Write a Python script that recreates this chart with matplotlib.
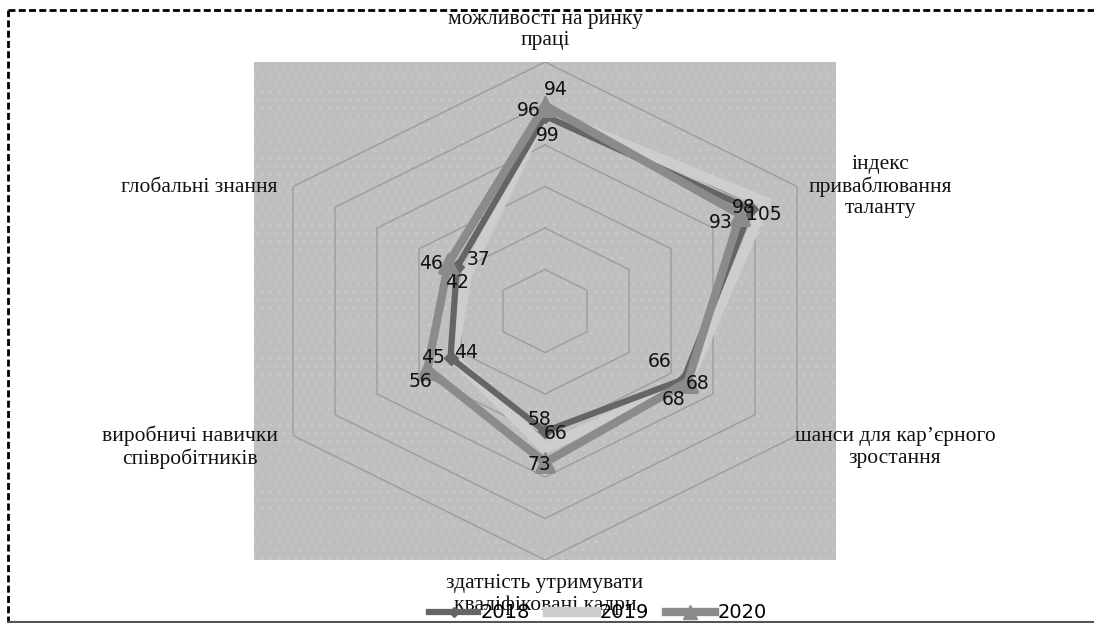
import matplotlib.pyplot as plt
import numpy as np
from matplotlib.patches import Rectangle
from matplotlib.lines import Line2D

# categories, clockwise from the top
categories = [
    "можливості на ринку\nпраці",
    "індекс\nприваблювання\nталанту",
    "шанси для кар’єрного\nзростання",
    "здатність утримувати\nкваліфіковані кадри",
    "виробничі навички\nспівробітників",
    "глобальні знання",
]
years = ["2018", "2019", "2020"]
values_2018 = [94, 98, 66, 58, 45, 42]
values_2019 = [96, 105, 68, 66, 44, 37]
values_2020 = [99, 93, 68, 73, 56, 46]
rings = [20, 40, 60, 80, 100, 120]

# label offsets (pixels) so the numbers sit where they do in the original
off_2018 = [(11, 26), (-7, 2), (-24, 18), (-6, 12), (-18, 0), (0, -15)]
off_2019 = [(-16, 1), (-2, -12), (10, -2), (11, 14), (13, 4), (11, 13)]
off_2020 = [(3, -30), (-20, -8), (-14, -18), (-6, -2), (-7, -12), (-17, 0)]
cat_off = [(0, 12), (83, 0), (98, -12), (0, -14), (-103, -12), (-94, -1)]
cat_va = ["bottom", "center", "center", "top", "center", "center"]

series = [
    (values_2019, off_2019, "#cdcdcd", 7.5, None, 0, 2),
    (values_2018, off_2018, "#656565", 4.5, "D", 7, 3),
    (values_2020, off_2020, "#8b8b8b", 6, "^", 15, 4),
]
labels_of = {0: "2019", 1: "2018", 2: "2020"}

fig = plt.figure(figsize=(10.94, 6.23), dpi=100)
box = [0.2322, 0.1011, 0.532, 0.7994]

# grey plot area with faint dots
bg = fig.add_axes(box)
bg.add_patch(Rectangle((0, 0), 1, 1, transform=bg.transAxes, facecolor="#bfbfbf",
                       edgecolor="#c8c8c8", hatch="..", lw=0))
bg.set_xticks([])
bg.set_yticks([])
for s in bg.spines.values():
    s.set_visible(False)

ax = fig.add_axes(box, projection="polar")
ax.set_aspect("auto")
ax.set_facecolor("none")
ax.set_theta_zero_location("N")
ax.set_theta_direction(-1)
ax.set_ylim(0, 120)
ax.grid(False)
ax.spines["polar"].set_visible(False)
ax.set_xticks([])
ax.set_yticks([])

angles = np.deg2rad(np.arange(len(categories)) * 60.0)
closed = np.append(angles, angles[0])

# hexagonal grid
for r in rings:
    ax.plot(closed, [r] * len(closed), color="#9c9c9c", lw=1, zorder=1)

handles = {}
for i, (vals, offs, col, lw, mk, ms, z) in enumerate(series):
    line, = ax.plot(closed, vals + vals[:1], color=col, lw=lw, marker=mk, markersize=ms,
                    markerfacecolor=col, markeredgecolor=col, zorder=z,
                    solid_joinstyle="miter")
    handles[labels_of[i]] = line
    for a, v, o in zip(angles, vals, offs):
        ax.annotate(str(v), (a, v), xytext=o, textcoords="offset pixels",
                    ha="center", va="center", fontsize=13.5, color="#111111", zorder=6,
                    annotation_clip=False)

for a, cat, o, va in zip(angles, categories, cat_off, cat_va):
    ax.annotate(cat, (a, 120), xytext=o, textcoords="offset pixels", ha="center", va=va,
                multialignment="center", fontsize=15.5, family="Liberation Serif",
                color="#111111", annotation_clip=False, linespacing=1.15)

leg = fig.legend([handles[y] for y in years], years, loc="center", ncol=3,
                 bbox_to_anchor=(598 / 1094, 1 - 613 / 623), frameon=False, fontsize=14,
                 handlelength=2.5, columnspacing=0.9, handletextpad=0.15, borderpad=0,
                 markerscale=0.7)

# dashed frame along top and left, thin line along the bottom
fig.add_artist(Line2D([8 / 1094, 1], [1 - 10 / 623] * 2, transform=fig.transFigure,
                      color="black", lw=2, ls=(0, (2.5, 1.2))))
fig.add_artist(Line2D([8 / 1094] * 2, [0, 1 - 10 / 623], transform=fig.transFigure,
                      color="black", lw=2, ls=(0, (2.5, 1.2))))
fig.add_artist(Line2D([8 / 1094, 1], [1.5 / 623] * 2, transform=fig.transFigure,
                      color="#555555", lw=1.5))

fig.savefig("out.png", dpi=100)
